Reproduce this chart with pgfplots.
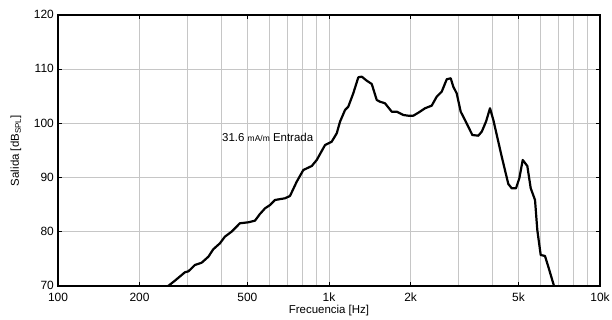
\documentclass[border=0pt]{standalone}
\usepackage{pgfplots}
\pgfplotsset{compat=1.18}
\usepackage{fontspec}
\setmainfont{Liberation Sans}
\begin{document}
\begin{tikzpicture}
\begin{axis}[
  name=ax,
  scale only axis,
  width=542bp, height=271bp,
  xmode=log,
  xmin=100, xmax=10000,
  ymin=70, ymax=120,
  xtick={100,200,500,1000,2000,5000,10000},
  xticklabels={100,200,500,1k,2k,5k,10k},
  minor xtick={300,400,600,700,800,900,3000,4000,6000,7000,8000,9000},
  ytick={70,80,90,100,110,120},
  grid=both,
  major grid style={gray!45, line width=0.7bp},
  minor grid style={gray!45, line width=0.7bp},
  tick style={black, line width=0.8bp},
  major tick length=4bp,
  minor tick length=0pt,
  tick align=inside,
  axis line style={black, line width=1.4bp},
  /pgf/number format/assume math mode=true,
  ticklabel style={font=\fontsize{12}{14}\selectfont},
  xticklabel style={inner sep=1bp, yshift=-5.5bp},
  yticklabel style={inner sep=1bp, xshift=-3bp, yshift=0.5bp},
  label style={font=\fontsize{11.5}{13}\selectfont},
  xlabel={Frecuencia [Hz]},
  ylabel={Salida [dB\textsubscript{SPL}]},
  xlabel style={inner sep=0pt, yshift=-3bp},
  ylabel style={yshift=8bp},
  clip=true,
]
\addplot[black, line width=2.2bp, line join=round] coordinates {
(255,70.0) (270,70.98) (294,72.53) (303,72.71) (320,73.87) (339,74.30)
(359,75.41) (374,76.77) (396,77.88) (413,79.10) (437,80.02) (469,81.57)
(504,81.75) (533,82.05) (556,83.28) (581,84.34) (606,84.94) (632,85.87)
(688,86.18) (718,86.61) (760,89.24) (804,91.40) (864,92.14) (901,93.25)
(967,96.01) (1023,96.62) (1068,98.17) (1098,100.31) (1146,102.47) (1178,103.08)
(1229,105.55) (1283,108.51) (1321,108.62) (1378,107.88) (1438,107.27) (1500,104.32)
(1543,104.0) (1609,103.71) (1704,102.16) (1778,102.16) (1880,101.55) (1961,101.42)
(2047,101.42) (2136,101.97) (2261,102.79) (2393,103.27) (2497,104.93) (2606,105.85)
(2719,108.14) (2813,108.32) (2875,106.77) (2959,105.55) (3062,102.16) (3175,100.63)
(3380,97.86) (3556,97.73) (3661,98.47) (3796,100.31) (3928,102.79) (4040,100.63)
(4339,93.86) (4588,88.82) (4723,88.03) (4898,88.03) (5038,89.87) (5186,93.25)
(5392,92.14) (5551,88.03) (5757,85.87) (5870,80.33) (6042,75.72) (6266,75.54)
(6445,73.56) (6766,70.0)
};
\node[anchor=west, font=\fontsize{11.5}{13}\selectfont, inner sep=0pt] at (axis cs:403,97.5)
  {31.6 {\fontsize{8.5}{10}\selectfont mA/m} Entrada};
\end{axis}
\pgfresetboundingbox
\path ([shift={(-58bp,-34bp)}]ax.south west) rectangle ([shift={(12bp,15bp)}]ax.north east);
\end{tikzpicture}
\end{document}
